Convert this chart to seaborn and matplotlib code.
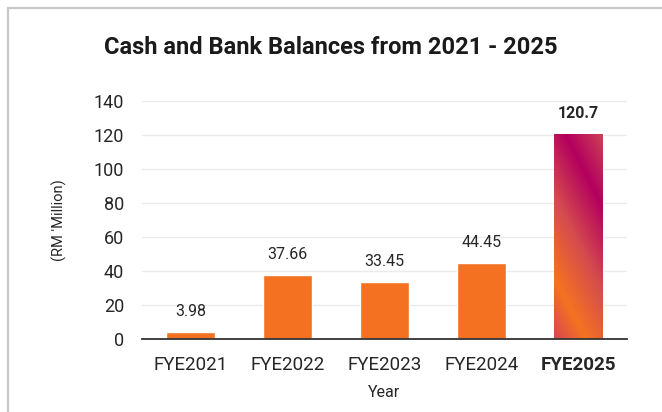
import numpy as np
import pandas as pd
import matplotlib
matplotlib.use("Agg")
import matplotlib.pyplot as plt
from matplotlib.colors import LinearSegmentedColormap
from matplotlib.patches import Rectangle
import seaborn as sns

# Cash and bank balances, RM million
years = ["FYE2021", "FYE2022", "FYE2023", "FYE2024", "FYE2025"]
balances = [3.98, 37.66, 33.45, 44.45, 120.7]
value_labels = ["3.98", "37.66", "33.45", "44.45", "120.7"]
y_ticks = [0, 20, 40, 60, 80, 100, 120, 140]

df = pd.DataFrame({"Year": years, "Balance": balances})

sns.set_theme(style="white")
plt.rcParams["font.family"] = ["Roboto", "DejaVu Sans"]

ORANGE = "#F37121"
TEXT = "#262626"

fig = plt.figure(figsize=(6.62, 4.12), dpi=100)
ax = fig.add_axes([142 / 662, 1 - 339 / 412, 485 / 662, 238 / 412])

sns.barplot(data=df, x="Year", y="Balance", color=ORANGE, width=0.5,
            saturation=1, ax=ax, zorder=3)

ax.set_ylim(0, 140)
ax.set_yticks(y_ticks)
ax.set_yticklabels([str(t) for t in y_ticks], fontsize=13, color=TEXT)
ax.tick_params(axis="y", length=0, pad=13)
ax.tick_params(axis="x", length=0, pad=12)
for lbl in ax.get_xticklabels():
    lbl.set_fontsize(13.5)
    lbl.set_color(TEXT)
ax.get_xticklabels()[-1].set_fontweight("bold")

ax.grid(axis="y", color="#EBEBEB", linewidth=1.0, zorder=0)
ax.set_axisbelow(True)
for side in ["left", "right", "top"]:
    ax.spines[side].set_visible(False)
ax.spines["bottom"].set_color("#333333")
ax.spines["bottom"].set_linewidth(1.3)
ax.spines["bottom"].set_zorder(5)

ax.set_xlabel("Year", fontsize=11.5, color=TEXT, labelpad=8)
ax.set_ylabel("(RM 'Million)", fontsize=10.5, color=TEXT, labelpad=19)

fig.suptitle("Cash and Bank Balances from 2021 - 2025", fontsize=17,
             fontweight="bold", color="#1a1a1a", x=0.5, y=1 - 47 / 412,
             va="center")

# value labels above each bar
bars = ax.patches
for i, (bar, val, txt) in enumerate(zip(bars, balances, value_labels)):
    cx = bar.get_x() + bar.get_width() / 2
    ax.annotate(txt, (cx, val), xytext=(0, 9.5), textcoords="offset points",
                ha="center", va="bottom", fontsize=11.5, color=TEXT,
                fontweight="bold" if i == len(balances) - 1 else "normal",
                clip_on=False)

# diagonal magenta/orange gradient for the latest year
fig.canvas.draw()
last = bars[-1]
last.set_facecolor("none")
bb = last.get_window_extent()
w, h = int(round(bb.width)), int(round(bb.height))
xs = np.arange(w)[None, :] * (49 / max(w, 1))
ys = np.arange(h)[:, None] * (214 / max(h, 1))
s = 2 * xs + ys  # rows run bottom -> top
stops = [(0, "#D8464F"), (62, "#F47321"), (148, "#D54B4E"),
         (234, "#B3005E"), (312, "#CF4455")]
cmap = LinearSegmentedColormap.from_list(
    "fy25", [(p / 312, c) for p, c in stops])
x0, y0 = last.get_x(), last.get_y()
img = ax.imshow(s / 312, cmap=cmap, vmin=0, vmax=1, origin="lower",
                extent=[x0, x0 + last.get_width(), y0, y0 + last.get_height()],
                aspect="auto", zorder=3, interpolation="bilinear")
img.set_clip_path(last)
ax.set_xlim(-0.5, len(years) - 0.5)

# light frame around the figure
fig.add_artist(Rectangle((8 / 662, -0.2), 1.5, 1 - 8 / 412 + 0.2,
                         transform=fig.transFigure, fill=False,
                         edgecolor="#C8C8C8", linewidth=1.6))

fig.savefig("out.png", dpi=100)
